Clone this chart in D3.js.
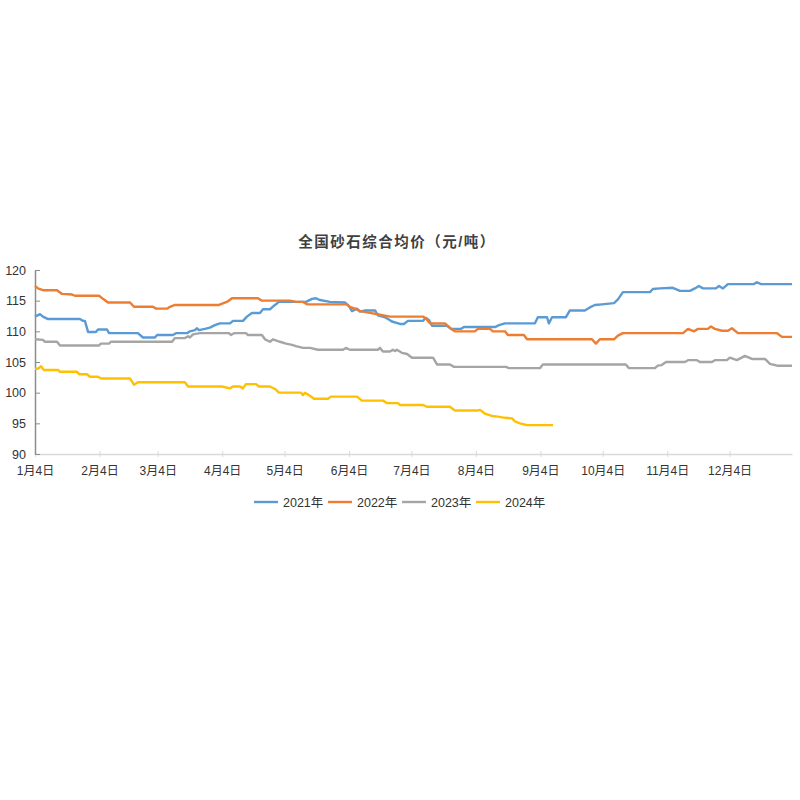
<!DOCTYPE html>
<html>
<head>
<meta charset="utf-8">
<script src="https://cdn.jsdelivr.net/npm/d3@7/dist/d3.min.js"></script>
<style>
  html, body { margin: 0; padding: 0; background: #fff; }
  svg { display: block; }
  text { font-family: "Liberation Sans", Arial, "Noto Sans CJK SC", sans-serif; }
</style>
</head>
<body>
<svg id="chart" width="800" height="800"></svg>
<script>
// ---- Data (day offsets counted from 1月4日, values in 元/吨) ----
const title = "全国砂石综合均价（元/吨）";
const seriesNames = ["2021年", "2022年", "2023年", "2024年"];
const seriesColors = ["#5B9BD5", "#ED7D31", "#A5A5A5", "#FFC000"];

const tickDays = [0, 31, 59, 90, 120, 151, 181, 212, 243, 273, 304, 334];
const tickLabels = ["1月4日","2月4日","3月4日","4月4日","5月4日","6月4日","7月4日","8月4日","9月4日","10月4日","11月4日","12月4日"];
const yTicks = [90, 95, 100, 105, 110, 115, 120];

const days2021 = [0,2.4,3.8,6.3,21.6,23.1,24,25.5,29.3,30.3,34.6,35.6,49.5,51.9,57.7,58.7,66.3,67.8,73.1,74.5,76.9,77.9,78.8,81.7,84.1,86.5,88.9,93.8,95.2,100,101.9,104.3,108.2,109.6,113,115.4,117.3,130.3,133.2,135.1,137,141.8,149,151,152.4,154.8,156.3,158.7,163.5,164.9,168.3,170.7,171.6,175.5,177.4,179.3,186.5,188,189.5,190.9,198.1,200,204.8,206.3,221.2,223.1,226,240.4,241.8,246.2,247.1,248.6,255.3,257.2,264.4,266.8,269.2,272.6,278.4,280.3,282.7,295.7,297.1,300.5,306.7,310.1,314.9,317.3,319.2,321.2,327.4,328.9,330.8,333.2,345.7,347.1,349.1,364];
const vals2021 = [112.4,112.8,112.4,112.0,112.0,111.7,111.7,109.9,109.9,110.3,110.3,109.7,109.7,109.0,109.0,109.4,109.4,109.7,109.7,110.0,110.2,110.5,110.2,110.4,110.6,111.0,111.3,111.3,111.7,111.7,112.4,113.0,113.0,113.6,113.6,114.3,114.8,114.8,115.3,115.4,115.1,114.8,114.7,114.1,113.3,113.7,113.2,113.4,113.4,112.6,112.3,111.8,111.6,111.2,111.2,111.7,111.7,112.2,111.8,110.9,110.9,110.4,110.4,110.7,110.7,111.0,111.3,111.3,112.3,112.3,111.3,112.3,112.3,113.4,113.4,113.9,114.3,114.4,114.6,115.2,116.4,116.4,116.9,117.0,117.1,116.6,116.6,117.0,117.4,117.0,117.0,117.4,117.0,117.7,117.7,118.0,117.7,117.7];

const days2022 = [0,1.4,3.8,10.6,13,17.8,19.2,30.8,32.7,35.1,45.7,47.6,56.7,58.2,63.5,64.9,67.3,88.5,92.8,94.7,107.2,109.1,122.6,125.5,128.9,130.8,150,151.4,153.9,156.3,161.1,165.9,170.7,186.5,188,189.9,197.1,200.5,201.9,211.5,213,218.8,220.2,226,227.4,235.1,236.6,267.8,269.7,271.6,278.4,280.3,282.7,311.6,314,316.9,318.8,323.6,325,326.9,330.3,333.2,335.1,338,356.8,359.2,364];
const vals2022 = [117.4,117.0,116.7,116.7,116.1,116.0,115.8,115.8,115.3,114.7,114.7,114.0,114.0,113.7,113.7,114.0,114.3,114.3,114.9,115.4,115.4,115.0,115.0,114.8,114.8,114.4,114.4,114.0,113.7,113.3,113.0,112.7,112.4,112.4,112.1,111.3,111.3,110.3,110.0,110.0,110.4,110.4,110.0,110.0,109.4,109.4,108.7,108.7,108.0,108.7,108.7,109.3,109.7,109.7,110.4,110.0,110.4,110.4,110.8,110.4,110.1,110.1,110.5,109.7,109.7,109.1,109.1];

const days2023 = [0,3.8,4.8,10.6,12,30.8,31.7,35.6,36.5,65.9,67.3,72.1,73.6,74.5,76,79.3,93.3,94.2,95.7,101.4,102.4,109.1,110.6,113,114.4,117.8,120.7,123.6,125.5,128.9,132.2,136.1,148.1,149.5,151.4,164.9,165.9,167.3,170.7,172.1,173.1,174,176.4,178.9,181.3,191.4,193.3,199.5,201.5,226.5,227.9,242.8,244.2,284.1,285.6,298.1,299.5,301.4,303.4,312.5,314,318.3,319.7,325.5,326.9,332.7,334.1,337.5,341.4,344.7,351,353.4,356.8,364];
const vals2023 = [108.7,108.6,108.3,108.3,107.7,107.7,108.0,108.0,108.3,108.3,108.9,108.9,109.2,109.0,109.5,109.7,109.7,109.4,109.7,109.7,109.4,109.4,108.7,108.3,108.7,108.3,108.0,107.8,107.6,107.3,107.3,107.0,107.0,107.3,107.0,107.0,107.3,106.7,106.7,107.0,106.8,107.0,106.5,106.3,105.7,105.7,104.6,104.6,104.2,104.2,104.0,104.0,104.6,104.6,104.0,104.0,104.4,104.5,105.0,105.0,105.3,105.3,105.0,105.0,105.3,105.3,105.7,105.3,106.0,105.5,105.5,104.7,104.4,104.4];

const days2024 = [0,1.4,2.9,4.3,11.1,12,20.2,21.2,25,26.4,30.3,31.7,45.7,47.6,49.5,72.1,73.6,89.9,93.8,95.2,98.6,100,101.4,106.3,107.7,113,115.4,117.3,127.9,128.9,129.8,132.2,134.1,140.9,142.3,154.8,157.2,167.3,169.2,174.5,175.5,186.5,188.4,199.5,201.9,213,214,216.3,219.7,222.6,226,229.4,230.8,233.2,236.6,249.1];
const vals2024 = [103.9,103.9,104.3,103.7,103.7,103.4,103.4,103.0,103.0,102.6,102.6,102.3,102.3,101.3,101.7,101.7,101.0,101.0,100.7,101.0,101.0,100.7,101.4,101.4,101.0,101.0,100.6,100.0,100.0,99.6,100.0,99.5,99.0,99.0,99.35,99.35,98.7,98.7,98.3,98.3,98.0,98.0,97.7,97.7,97.1,97.1,97.2,96.6,96.2,96.1,95.9,95.8,95.3,95.0,94.7,94.7];

const seriesDays = [days2021, days2022, days2023, days2024];
const seriesVals = [vals2021, vals2022, vals2023, vals2024];

// ---- Layout ----
const svg = d3.select("#chart");
const plotLeft = 35, plotRight = 792, plotTop = 270, plotBottom = 454;

const x = d3.scaleLinear().domain([0, 364]).range([plotLeft, plotRight]);
const y = d3.scaleLinear().domain([90, 120]).range([plotBottom, plotTop]);

// Title
svg.append("text")
  .attr("x", 397).attr("y", 247)
  .attr("text-anchor", "middle")
  .attr("font-family", "'Noto Sans CJK SC', sans-serif")
  .attr("font-size", 14.5)
  .attr("font-weight", 600)
  .attr("letter-spacing", 1.5)
  .attr("fill", "#404040")
  .text(title);

// X axis
const xAxis = d3.axisBottom(x)
  .tickValues(tickDays)
  .tickFormat((d, i) => tickLabels[i])
  .tickSizeInner(4).tickSizeOuter(0).tickPadding(8);
const gx = svg.append("g").attr("transform", `translate(0,${plotBottom})`).call(xAxis);
gx.select(".domain").attr("stroke", "#d9d9d9").attr("stroke-width", 1.3);
gx.selectAll(".tick line").attr("stroke", "#d9d9d9").attr("y1", -3).attr("y2", 3);
gx.selectAll(".tick text").attr("font-size", 12).attr("fill", "#333");

// Y axis
const yAxis = d3.axisLeft(y)
  .tickValues(yTicks)
  .tickSizeInner(-5).tickSizeOuter(0).tickPadding(9);
const gy = svg.append("g").attr("transform", `translate(${plotLeft},0)`).call(yAxis);
gy.select(".domain").attr("stroke", "#8c8c8c").attr("stroke-width", 1.5);
gy.selectAll(".tick line").attr("stroke", "#8c8c8c");
gy.selectAll(".tick text").attr("font-size", 12.5).attr("fill", "#333");

// Lines
const line = d3.line().x(d => x(d[0])).y(d => y(d[1]));
seriesNames.forEach((name, i) => {
  const pts = seriesDays[i].map((d, j) => [d, seriesVals[i][j]]);
  svg.append("path")
    .datum(pts)
    .attr("fill", "none")
    .attr("stroke", seriesColors[i])
    .attr("stroke-width", 2.4)
    .attr("stroke-linejoin", "round")
    .attr("d", line);
});

// Legend
const legend = svg.append("g").attr("transform", "translate(254,502)");
seriesNames.forEach((name, i) => {
  const g = legend.append("g").attr("transform", `translate(${i * 74},0)`);
  g.append("line").attr("x1", 0).attr("x2", 24).attr("y1", 0).attr("y2", 0)
    .attr("stroke", seriesColors[i]).attr("stroke-width", 2.4);
  g.append("text").attr("x", 29).attr("y", 4.5)
    .attr("font-size", 12.5).attr("fill", "#333").text(name);
});
</script>
</body>
</html>
